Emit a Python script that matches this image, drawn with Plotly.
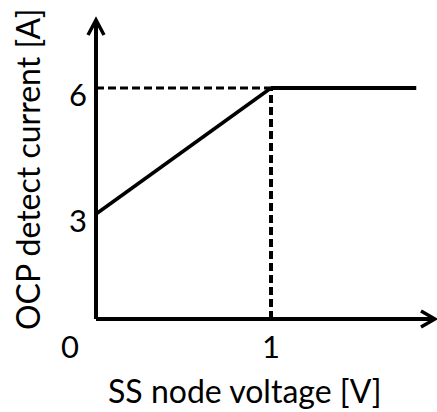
import plotly.graph_objects as go

# ---- data ----
ramp_v = [0.0, 0.15, 0.35, 0.54, 0.73, 0.92, 1.0]
ramp_i = [3.0, 3.45, 4.05, 4.64, 5.19, 5.76, 6.0]
flat_v = [1.0, 1.83]
flat_i = [6.0, 6.0]
knee_v = 1.0
knee_i = 6.0
x_tick_vals = [0, 1]
x_tick_text = ["0", "1"]
y_tick_vals = [3, 6]
y_tick_text = ["3", "6"]
x_title = "SS node voltage [V]"
y_title = "OCP detect current [A]"

W, H = 437, 412
L, R, T, B = 96, 2, 20, 93
XMAX = 1.937
YMIN, YMAX = 0.5, 7.62
FONT = "Lato"

fig = go.Figure()
# dashed guides
fig.add_trace(go.Scatter(x=[0, knee_v], y=[knee_i, knee_i], mode="lines",
                         line=dict(color="black", width=3, dash="8px,4px"), hoverinfo="skip"))
fig.add_trace(go.Scatter(x=[knee_v, knee_v], y=[YMIN, knee_i], mode="lines",
                         line=dict(color="black", width=4, dash="8px,4px"), hoverinfo="skip"))
# curve
fig.add_trace(go.Scatter(x=ramp_v, y=ramp_i, mode="lines",
                         line=dict(color="black", width=3.5), hoverinfo="skip"))
fig.add_trace(go.Scatter(x=flat_v, y=flat_i, mode="lines",
                         line=dict(color="black", width=4), hoverinfo="skip"))

pw = W - L - R
ph = H - T - B

def px2paper(px, py):
    return (px - L) / pw, (H - B - py) / ph

# axes lines with chevron arrowheads (paper coords, not clipped)
ox, oy = px2paper(L, H - B)
tx, ty = px2paper(W - 2, H - B)
ux, uy = px2paper(L, T)
a1 = px2paper(L - 8, T + 15)
a2 = px2paper(L + 8, T + 15)
b1 = px2paper(W - 2 - 14, H - B - 8)
b2 = px2paper(W - 2 - 14, H - B + 8)
shapes = [
    dict(type="line", xref="paper", yref="paper", x0=ox, y0=oy, x1=tx, y1=ty,
         line=dict(color="black", width=4)),
    dict(type="line", xref="paper", yref="paper", x0=ox, y0=oy, x1=ux, y1=uy,
         line=dict(color="black", width=4)),
    dict(type="path", xref="paper", yref="paper",
         path=f"M {a1[0]} {a1[1]} L {ux} {uy} L {a2[0]} {a2[1]}",
         line=dict(color="black", width=3.5)),
    dict(type="path", xref="paper", yref="paper",
         path=f"M {b1[0]} {b1[1]} L {tx} {ty} L {b2[0]} {b2[1]}",
         line=dict(color="black", width=3.5)),
]

ann = []
for v, t in zip(x_tick_vals, x_tick_text):
    cx = L + v * 175 - (26 if v == 0 else 0)
    xp, yp = px2paper(cx, 346)
    ann.append(dict(x=xp, y=yp, xref="paper", yref="paper", text=t, showarrow=False,
                    font=dict(family=FONT, size=31, color="black"), xanchor="center", yanchor="middle"))
for v, t in zip(y_tick_vals, y_tick_text):
    py = 214 - (v - 3) * 42 + 6
    xp, yp = px2paper(78, py)
    ann.append(dict(x=xp, y=yp, xref="paper", yref="paper", text=t, showarrow=False,
                    font=dict(family=FONT, size=31, color="black"), xanchor="center", yanchor="middle"))
xp, yp = px2paper(245, 390)
ann.append(dict(x=xp, y=yp, xref="paper", yref="paper", text=x_title, showarrow=False,
                font=dict(family=FONT, size=32, color="black"), xanchor="center", yanchor="middle"))
xp, yp = px2paper(27, 170)
ann.append(dict(x=xp, y=yp, xref="paper", yref="paper", text=y_title, showarrow=False, textangle=-90,
                font=dict(family=FONT, size=32, color="black"), xanchor="center", yanchor="middle"))

fig.update_layout(
    width=W, height=H, margin=dict(l=L, r=R, t=T, b=B),
    paper_bgcolor="white", plot_bgcolor="white", showlegend=False,
    xaxis=dict(range=[0, XMAX], visible=False, fixedrange=True),
    yaxis=dict(range=[YMIN, YMAX], visible=False, fixedrange=True),
    shapes=shapes, annotations=ann,
)
fig.write_html("out.html", config={"displayModeBar": False},
               post_script="document.body.style.margin='0';document.body.style.overflow='hidden';")
